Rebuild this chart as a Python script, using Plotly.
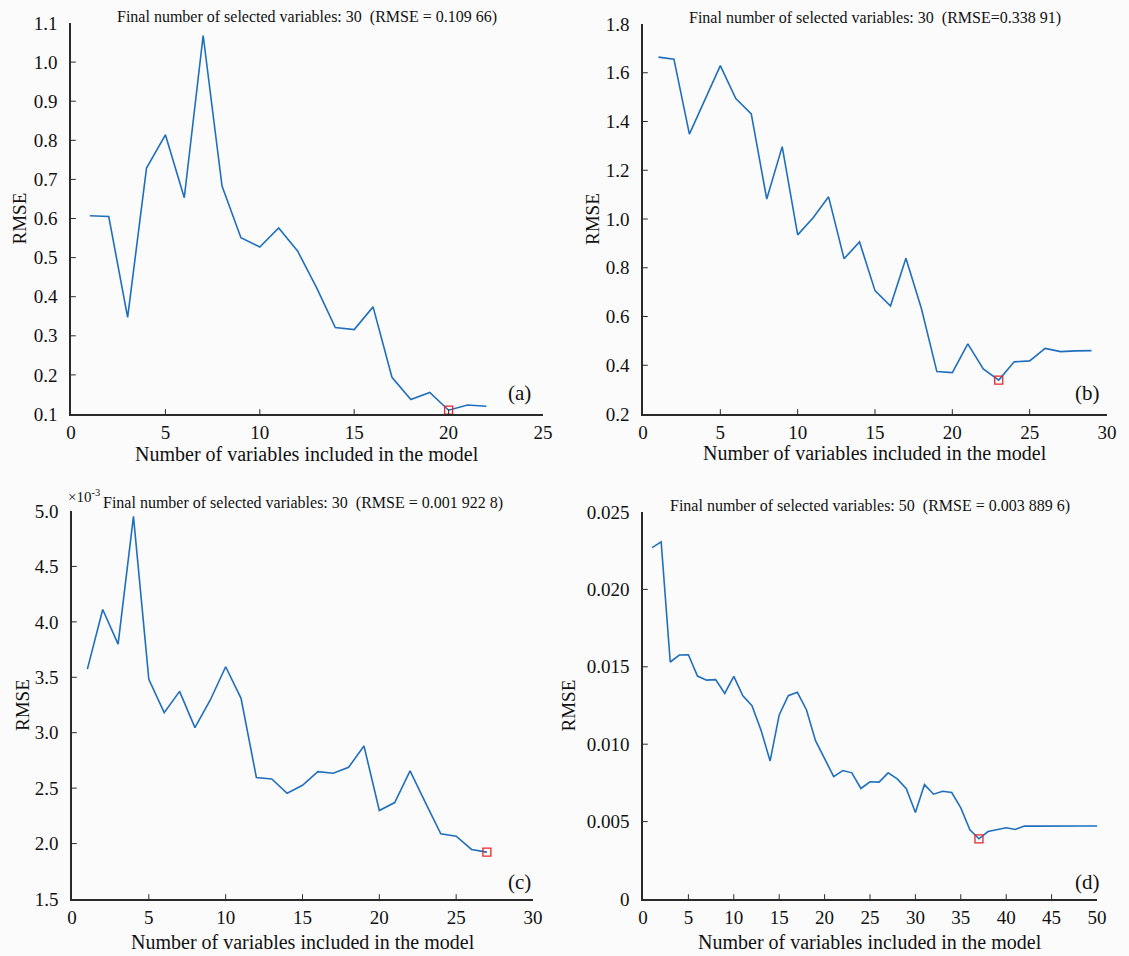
import plotly.graph_objects as go

# ---------------- data ----------------
n_a = list(range(1, 23))
rmse_a = [0.607, 0.605, 0.347, 0.729, 0.814, 0.653, 1.068, 0.683, 0.551, 0.527,
          0.576, 0.517, 0.424, 0.321, 0.316, 0.374, 0.194, 0.137, 0.155, 0.10966,
          0.123, 0.120]
best_a = (20, 0.10966)

n_b = list(range(1, 30))
rmse_b = [1.664, 1.656, 1.348, 1.490, 1.629, 1.494, 1.431, 1.082, 1.297, 0.935,
          1.005, 1.091, 0.837, 0.906, 0.706, 0.643, 0.839, 0.633, 0.374, 0.370,
          0.488, 0.385, 0.33891, 0.414, 0.418, 0.469, 0.456, 0.459, 0.460]
best_b = (23, 0.33891)

# panel (c) values in units of 10^-3
n_c = list(range(1, 28))
rmse_c = [3.574, 4.111, 3.799, 4.952, 3.481, 3.181, 3.373, 3.046, 3.295, 3.595,
          3.310, 2.595, 2.583, 2.454, 2.526, 2.649, 2.634, 2.688, 2.881, 2.298,
          2.370, 2.655, 2.370, 2.088, 2.067, 1.947, 1.9228]
best_c = (27, 1.9228)

n_d = list(range(1, 51))
rmse_d = [0.02270, 0.02307, 0.01531, 0.01576, 0.01578, 0.01440, 0.01414, 0.01417,
          0.01328, 0.01438, 0.01313, 0.01249, 0.01090, 0.00892, 0.01189, 0.01313,
          0.01335, 0.01223, 0.01023, 0.00907, 0.00791, 0.00830, 0.00815, 0.00714,
          0.00757, 0.00755, 0.00815, 0.00776, 0.00712, 0.00559, 0.00739, 0.00677,
          0.00696, 0.00688, 0.00589, 0.00447, 0.0038896, 0.00436, 0.00447, 0.00460,
          0.00449, 0.00471, 0.00471, 0.00472, 0.00472, 0.00472, 0.00472, 0.00472,
          0.00472, 0.00472]
best_d = (37, 0.0038896)

titles = [
    "Final number of selected variables: 30\u00a0 (RMSE = 0.109 66)",
    "Final number of selected variables: 30\u00a0 (RMSE=0.338 91)",
    "Final number of selected variables: 30\u00a0 (RMSE = 0.001 922 8)",
    "Final number of selected variables: 50\u00a0 (RMSE = 0.003 889 6)",
]
panel_labels = ["(a)", "(b)", "(c)", "(d)"]
x_title = "Number of variables included in the model"
y_title = "RMSE"

xticks_a = [0, 5, 10, 15, 20, 25]
xticks_b = [0, 5, 10, 15, 20, 25, 30]
xticks_c = [0, 5, 10, 15, 20, 25, 30]
xticks_d = [0, 5, 10, 15, 20, 25, 30, 35, 40, 45, 50]
yticks_a = [0.1, 0.2, 0.3, 0.4, 0.5, 0.6, 0.7, 0.8, 0.9, 1.0, 1.1]
yticks_b = [0.2, 0.4, 0.6, 0.8, 1.0, 1.2, 1.4, 1.6, 1.8]
yticks_c = [1.5, 2.0, 2.5, 3.0, 3.5, 4.0, 4.5, 5.0]
yticks_d = [0, 0.005, 0.010, 0.015, 0.020, 0.025]
ytext_d = ["0", "0.005", "0.010", "0.015", "0.020", "0.025"]

# ---------------- layout geometry ----------------
W, H = 1129, 956
FONT = "Liberation Serif, Times New Roman, serif"
LINE = "#1f6fbd"
AX = "#2a2a2a"
BG = "#fbfbfb"

def px_x(p):
    return p / W

def px_y(p):
    return 1 - p / H

# pixel boxes: (left, right, top, bottom)
boxes = [(71, 543, 23, 414), (643, 1107, 24, 414), (72, 533, 511, 899), (643, 1097, 512, 899)]

fig = go.Figure()

series = [(n_a, rmse_a, best_a), (n_b, rmse_b, best_b), (n_c, rmse_c, best_c), (n_d, rmse_d, best_d)]
for i, (xs, ys, best) in enumerate(series):
    sfx = "" if i == 0 else str(i + 1)
    fig.add_trace(go.Scatter(x=xs, y=ys, mode="lines", line=dict(color=LINE, width=1.6),
                             xaxis="x" + sfx, yaxis="y" + sfx, showlegend=False))
    fig.add_trace(go.Scatter(x=[best[0]], y=[best[1]], mode="markers",
                             marker=dict(symbol="square-open", size=8, color="#e8262b",
                                         line=dict(width=1.3)),
                             xaxis="x" + sfx, yaxis="y" + sfx, showlegend=False))

xranges = [[0, 25], [0, 30], [0, 30], [0, 50]]
yranges = [[0.1, 1.1], [0.2, 1.8], [1.5, 5.0], [0, 0.025]]
xtks = [xticks_a, xticks_b, xticks_c, xticks_d]
ytks = [yticks_a, yticks_b, yticks_c, yticks_d]
ytxt = [[f"{v:.1f}" for v in yticks_a], [f"{v:.1f}" for v in yticks_b],
        [f"{v:.1f}" for v in yticks_c], ytext_d]

layout = dict(width=W, height=H, margin=dict(l=0, r=0, t=0, b=0, autoexpand=False),
              paper_bgcolor=BG, plot_bgcolor=BG, font=dict(family=FONT, color="#111"),
              template="none")
common = dict(showline=True, linecolor=AX, linewidth=1.6, ticks="inside", ticklen=5,
              tickwidth=1.2, tickcolor=AX, showgrid=False, zeroline=False, mirror=False,
              layer="above traces", automargin=False,
              tickfont=dict(family=FONT, size=19, color="#111"))
for i, (l, r, t, b) in enumerate(boxes):
    sfx = "" if i == 0 else str(i + 1)
    layout["xaxis" + sfx] = dict(common, domain=[px_x(l), px_x(r)], range=xranges[i],
                                 tickvals=xtks[i], anchor="y" + sfx, ticklabelstandoff=0)
    layout["yaxis" + sfx] = dict(common, domain=[px_y(b), px_y(t)], range=yranges[i],
                                 tickvals=ytks[i], ticktext=ytxt[i], anchor="x" + sfx,
                                 ticklabelstandoff=8)
fig.update_layout(**layout)

ann = []
title_y = [17, 18, 503, 506]
xtitle_y = [454, 453, 942, 942]
ytitle_x = [19, 592, 22, 568]
label_pos = [(519, 393), (1087, 393), (519, 882), (1087, 882)]
for i, (l, r, t, b) in enumerate(boxes):
    cx = (l + r) / 2
    ann.append(dict(x=px_x(cx), y=px_y(title_y[i]), xref="paper", yref="paper", text=titles[i],
                    showarrow=False, font=dict(size=16, family=FONT, color="#111"),
                    xanchor="center", yanchor="middle"))
    ann.append(dict(x=px_x(cx), y=px_y(xtitle_y[i]), xref="paper", yref="paper", text=x_title,
                    showarrow=False, font=dict(size=20, family=FONT, color="#111"),
                    xanchor="center", yanchor="middle"))
    ann.append(dict(x=px_x(ytitle_x[i]), y=px_y((t + b) / 2), xref="paper", yref="paper",
                    text=y_title, textangle=-90, showarrow=False,
                    font=dict(size=19, family=FONT, color="#111"),
                    xanchor="center", yanchor="middle"))
    ann.append(dict(x=px_x(label_pos[i][0]), y=px_y(label_pos[i][1]), xref="paper", yref="paper",
                    text=panel_labels[i], showarrow=False,
                    font=dict(size=21, family=FONT, color="#111"),
                    xanchor="center", yanchor="middle"))
ann.append(dict(x=px_x(66), y=px_y(496), xref="paper", yref="paper",
                text="×10<sup>-3</sup>", showarrow=False,
                font=dict(size=15, family=FONT, color="#111"), xanchor="left", yanchor="middle"))
fig.update_layout(annotations=ann)

post = """
document.body.style.margin = '0px';
document.body.style.padding = '0px';
var st = document.createElement('style');
st.textContent = '.js-plotly-plot .plotly .crisp, .crisp { shape-rendering: auto !important; }';
document.head.appendChild(st);
"""
fig.write_html("out.html", post_script=post, config={"displayModeBar": False})
